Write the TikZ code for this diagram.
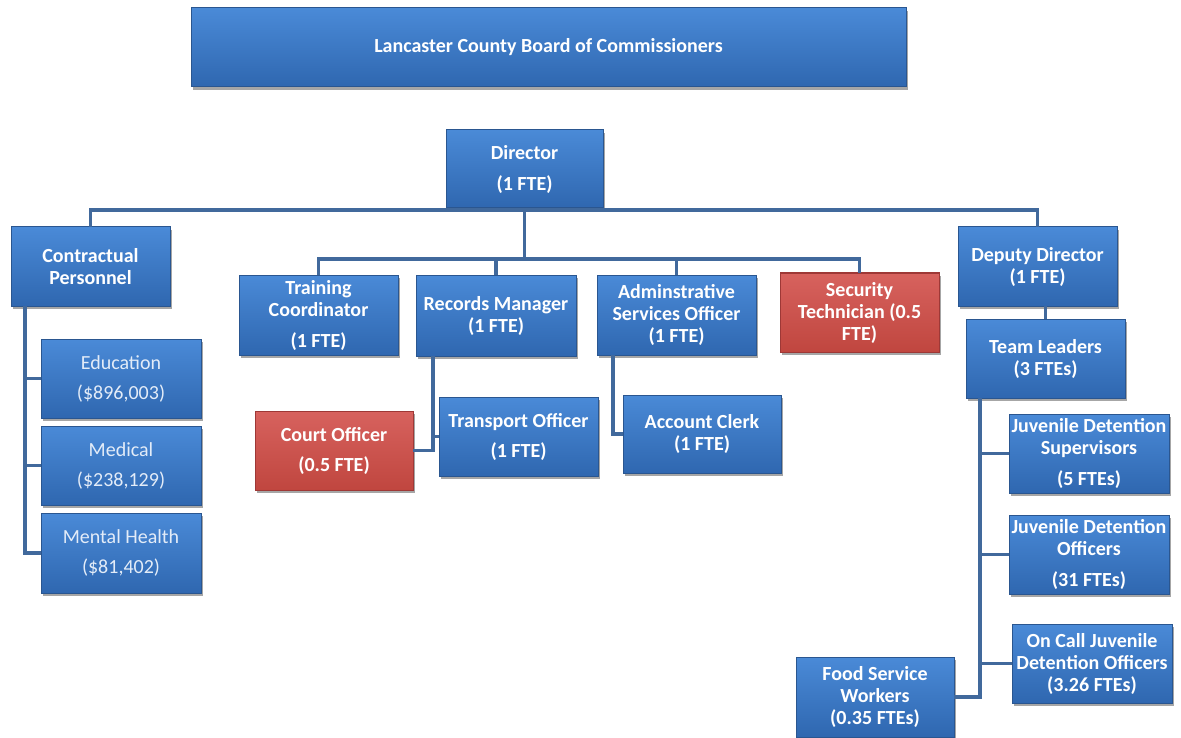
\documentclass[tikz,border=0pt]{standalone}
\usepackage{fontspec}
\setmainfont{Carlito}
\usetikzlibrary{shadows}
\definecolor{boxtop}{HTML}{4A8AD7}
\definecolor{boxbot}{HTML}{2F67B0}
\definecolor{boxedge}{HTML}{2A5690}
\definecolor{redtop}{HTML}{D7625E}
\definecolor{redbot}{HTML}{C0463F}
\definecolor{rededge}{HTML}{9E3836}
\definecolor{wirecol}{HTML}{41699C}
\definecolor{softtext}{HTML}{E3ECF8}
\tikzset{
  orgbox/.style={rectangle, draw=boxedge, line width=1pt, top color=boxtop, bottom color=boxbot,
    inner sep=0pt, outer sep=0pt, align=center, text=white,
    font=\bfseries\fontsize{20}{22}\selectfont,
    drop shadow={shadow xshift=2pt, shadow yshift=-3pt, opacity=0.35, fill=black}},
  redbox/.style={orgbox, draw=rededge, top color=redtop, bottom color=redbot},
  softbox/.style={orgbox, font=\fontsize{20}{22}\selectfont, text=softtext},
  wire/.style={draw=wirecol, line width=3.5pt},
}
\begin{document}
\begin{tikzpicture}[x=1pt,y=-1pt]
\useasboundingbox (0,0) rectangle (1181,738);
% nodes
\node[orgbox, minimum width=715pt, minimum height=79pt] (board) at (548.5,47.5) {Lancaster County Board of Commissioners};
\node[orgbox, minimum width=157pt, minimum height=78pt] (dir) at (524.5,169) {Director\\[9pt](1 FTE)};
\node[orgbox, minimum width=159pt, minimum height=79pt] (cp) at (90.5,266.5) {Contractual\\Personnel};
\node[orgbox, minimum width=159pt, minimum height=80pt] (tc) at (318.5,315) {Training\\Coordinator\\[9pt](1 FTE)};
\node[orgbox, minimum width=160pt, minimum height=81pt] (rm) at (496,315.5) {Records Manager\\(1 FTE)};
\node[orgbox, minimum width=159pt, minimum height=80pt] (as) at (676.5,315) {Adminstrative\\Services Officer\\(1 FTE)};
\node[redbox, minimum width=159pt, minimum height=79pt] (st) at (859.5,312.5) {Security\\Technician (0.5\\FTE)};
\node[orgbox, minimum width=159pt, minimum height=79pt] (dd) at (1037.5,266.5) {Deputy Director\\(1 FTE)};
\node[orgbox, minimum width=159pt, minimum height=79pt] (tl) at (1045.5,358.5) {Team Leaders\\(3 FTEs)};
\node[softbox, minimum width=160pt, minimum height=79pt] (ed) at (121,378.5) {Education\\[8pt](\$896,003)};
\node[softbox, minimum width=160pt, minimum height=79pt] (med) at (121,465.5) {Medical\\[8pt](\$238,129)};
\node[softbox, minimum width=160pt, minimum height=80pt] (mh) at (121,553) {Mental Health\\[8pt](\$81,402)};
\node[redbox, minimum width=158pt, minimum height=79pt] (co) at (334,450.5) {Court Officer\\[8pt](0.5 FTE)};
\node[orgbox, minimum width=159pt, minimum height=79pt] (to) at (518.5,436.5) {Transport Officer\\[8pt](1 FTE)};
\node[orgbox, minimum width=158pt, minimum height=78pt] (ac) at (702,434) {Account Clerk\\(1 FTE)};
\node[orgbox, minimum width=160pt, minimum height=79pt] (jds) at (1089,453.5) {Juvenile Detention\\Supervisors\\[9pt](5 FTEs)};
\node[orgbox, minimum width=160pt, minimum height=79pt] (jdo) at (1089,554.5) {Juvenile Detention\\Officers\\[9pt](31 FTEs)};
\node[orgbox, minimum width=160pt, minimum height=79pt] (oc) at (1092,663.5) {On Call Juvenile\\Detention Officers\\(3.26 FTEs)};
\node[orgbox, minimum width=158pt, minimum height=80pt] (fs) at (875,697) {Food Service\\Workers\\(0.35 FTEs)};
% bus coordinates
\coordinate (busA) at (0,210);
\coordinate (busB) at (0,259);
\coordinate (cpx) at ([xshift=-65.5pt]cp.south);
\coordinate (rmx) at ([xshift=-63pt]rm.south);
\coordinate (asx) at ([xshift=-63.5pt]as.south);
\coordinate (tlx) at ([xshift=-65.5pt]tl.south);
% connectors
\draw[wire] (cp.north) -- (cp.north |- busA) -- (dd.north |- busA) -- (dd.north);
\draw[wire] (dir.south) -- (dir.south |- busB);
\draw[wire] (tc.north) -- (tc.north |- busB) -- (st.north |- busB) -- (st.north);
\draw[wire] (rm.north) -- (rm.north |- busB);
\draw[wire] (as.north) -- (as.north |- busB);
\draw[wire] (cpx) |- (mh.west);
\draw[wire] (cpx |- ed.west) -- (ed.west);
\draw[wire] (cpx |- med.west) -- (med.west);
\draw[wire] (rmx) |- (co.east);
\draw[wire] (rmx |- to.west) -- (to.west);
\draw[wire] (asx) |- (ac.west);
\draw[wire] (tl.north) -- (tl.north |- dd.south);
\draw[wire] (tlx) |- (fs.east);
\draw[wire] (tlx |- jds.west) -- (jds.west);
\draw[wire] (tlx |- jdo.west) -- (jdo.west);
\draw[wire] (tlx |- oc.west) -- (oc.west);
\end{tikzpicture}
\end{document}
